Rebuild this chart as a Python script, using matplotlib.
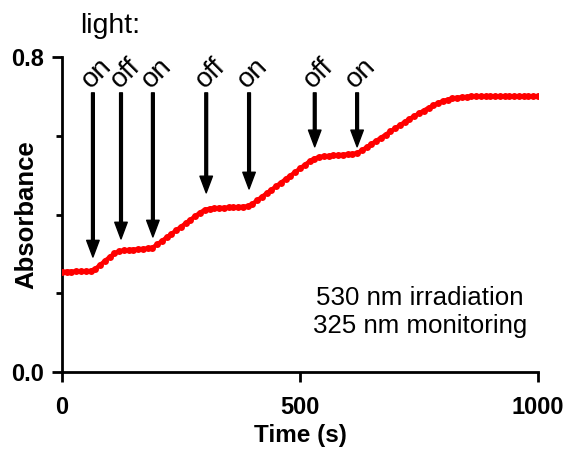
import matplotlib
matplotlib.use("Agg")
import matplotlib.pyplot as plt
from matplotlib.ticker import MultipleLocator

plt.rcParams['font.family'] = ['Liberation Sans', 'DejaVu Sans']

# time (s) and absorbance at 325 nm
time_s = [0, 10, 20, 30, 40, 50, 60, 70, 80, 90,
          100, 110, 120, 130, 140, 150, 160, 170, 180, 190,
          200, 210, 220, 230, 240, 250, 260, 270, 280, 290,
          300, 310, 320, 330, 340, 350, 360, 370, 380, 390,
          400, 410, 420, 430, 440, 450, 460, 470, 480, 490,
          500, 510, 520, 530, 540, 550, 560, 570, 580, 590,
          600, 610, 620, 630, 640, 650, 660, 670, 680, 690,
          700, 710, 720, 730, 740, 750, 760, 770, 780, 790,
          800, 810, 820, 830, 840, 850, 860, 870, 880, 890,
          900, 910, 920, 930, 940, 950, 960, 970, 980, 990, 1000]
absorbance = [0.255, 0.255, 0.255, 0.256, 0.256, 0.256, 0.257, 0.262, 0.272, 0.282,
              0.292, 0.301, 0.307, 0.309, 0.310, 0.311, 0.312, 0.313, 0.314, 0.316,
              0.324, 0.333, 0.342, 0.351, 0.360, 0.369, 0.378, 0.387, 0.396, 0.405,
              0.412, 0.415, 0.416, 0.417, 0.417, 0.418, 0.418, 0.419, 0.420, 0.421,
              0.427, 0.436, 0.445, 0.454, 0.463, 0.472, 0.481, 0.490, 0.499, 0.508,
              0.517, 0.526, 0.535, 0.542, 0.546, 0.548, 0.549, 0.550, 0.551, 0.552,
              0.553, 0.554, 0.556, 0.563, 0.571, 0.579, 0.587, 0.595, 0.603, 0.611,
              0.619, 0.627, 0.635, 0.643, 0.650, 0.657, 0.664, 0.671, 0.677, 0.683,
              0.688, 0.692, 0.695, 0.697, 0.698, 0.699, 0.700, 0.700, 0.700, 0.700,
              0.700, 0.700, 0.700, 0.700, 0.700, 0.700, 0.700, 0.700, 0.700, 0.700, 0.700]

# light switching events
switch_t = [65, 124, 191, 303, 393, 531, 620]
switch_lbl = ['on', 'off', 'on', 'off', 'on', 'off', 'on']
arrow_tip = [0.292, 0.338, 0.343, 0.455, 0.465, 0.572, 0.572]
arrow_tail = 0.709

fig = plt.figure(figsize=(5.66, 4.49), dpi=100)
ax = fig.add_axes([0.1095, 0.1715, 0.841, 0.7015])

ax.plot(time_s, absorbance, color='#ff0000', lw=3, marker='o', ms=5,
        markeredgewidth=0, zorder=3)

for t, lbl, tip in zip(switch_t, switch_lbl, arrow_tip):
    ax.annotate('', xy=(t, tip), xytext=(t, arrow_tail),
                arrowprops=dict(facecolor='black', edgecolor='black',
                                width=2.0, headwidth=9, headlength=12, shrink=0))
    ax.annotate(lbl, xy=(t, arrow_tail), xytext=(3, 0), textcoords='offset points',
                rotation=45, ha='center', va='bottom', fontsize=20,
                annotation_clip=False)

ax.text(38, 0.88, 'light:', fontsize=20.5, ha='left', va='center', clip_on=False)
ax.text(752, 0.152, '530 nm irradiation\n325 nm monitoring', fontsize=18.6,
        ha='center', va='center', multialignment='center')

ax.set_xlim(0, 1000)
ax.set_ylim(0, 0.8)
ax.set_xticks([0, 500, 1000])
ax.set_yticks([0.0, 0.8])
ax.set_yticklabels(['0.0', '0.8'])
ax.yaxis.set_minor_locator(MultipleLocator(0.2))

for side in ['top', 'right']:
    ax.spines[side].set_visible(False)
for side in ['left', 'bottom']:
    ax.spines[side].set_linewidth(2)

ax.tick_params(which='major', direction='out', length=7, width=2, labelsize=17)
ax.tick_params(axis='x', which='major', pad=10)
ax.tick_params(axis='y', which='major', pad=6)
ax.tick_params(which='minor', direction='out', length=4, width=2)
for lab in ax.get_xticklabels() + ax.get_yticklabels():
    lab.set_fontweight('bold')

ax.set_xlabel('Time (s)', fontsize=17.5, fontweight='bold', labelpad=4)
ax.set_ylabel('Absorbance', fontsize=18.5, fontweight='bold')
ax.yaxis.set_label_coords(-0.05, 0.5)

fig.savefig('out.png', dpi=100)
